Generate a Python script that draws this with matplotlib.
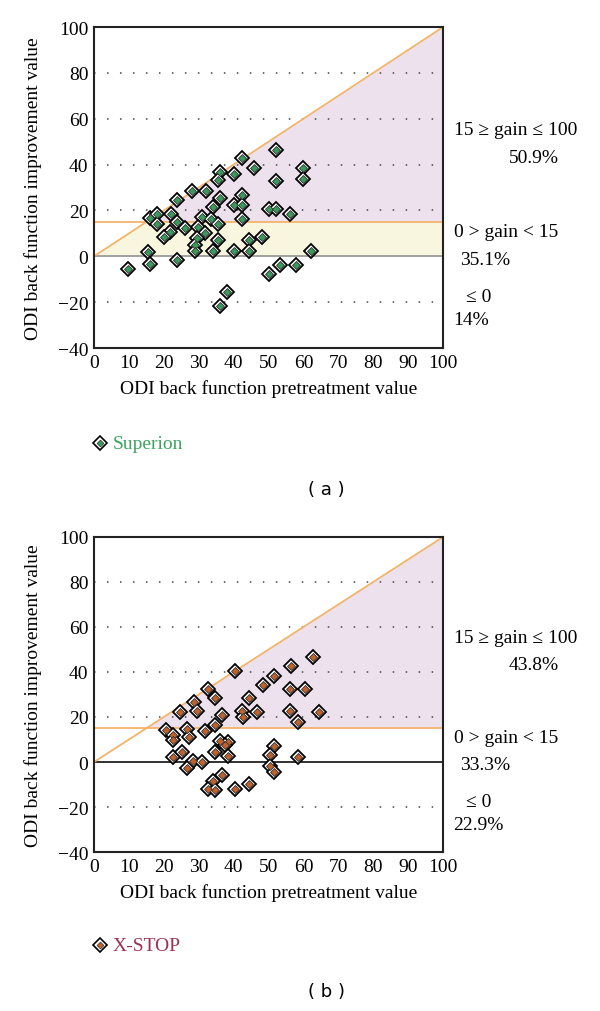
"""ODI back function: improvement vs pretreatment value, Superion and X-STOP."""

import numpy as np
import matplotlib
matplotlib.use("Agg")
import matplotlib.pyplot as plt

SERIF = ["Liberation Serif", "DejaVu Serif"]
plt.rcParams["font.family"] = SERIF

# Superion (panel a)
sup_pre = [52.1, 42.3, 45.9, 60.0, 60.0, 52.1, 36.1, 35.6, 40.1, 28.0,
           32.0, 23.9, 36.1, 42.3, 40.1, 42.3, 34.2, 50.1, 52.1, 56.2,
           42.3, 15.9, 18.0, 18.0, 22.0, 23.9, 26.1, 21.8, 20.1, 30.9,
           29.9, 33.4, 35.6, 31.8, 29.4, 28.9, 28.9, 35.6, 34.0, 40.1,
           44.5, 44.5, 48.0, 62.1, 15.6, 15.9, 23.9, 9.8, 50.1, 53.3,
           57.9, 38.0, 36.1]
sup_gain = [46.3, 42.7, 38.5, 38.5, 33.8, 32.8, 36.8, 33.5, 36.0, 28.7,
            28.7, 24.7, 25.4, 26.6, 22.5, 22.2, 21.4, 20.8, 20.8, 18.6,
            16.2, 16.7, 18.4, 14.2, 18.4, 14.9, 12.3, 10.8, 8.6, 17.0,
            13.0, 16.2, 14.0, 10.1, 7.9, 5.0, 2.3, 7.2, 2.3, 2.3,
            7.2, 2.5, 8.3, 2.3, 2.0, -3.5, -1.6, -5.6, -7.5, -3.8,
            -3.8, -15.5, -21.6]

# X-STOP (panel b)
xs_pre = [62.7, 56.4, 40.4, 51.7, 48.5, 56.2, 60.5, 32.6, 34.7, 44.5,
          28.7, 29.6, 24.6, 36.7, 42.5, 42.8, 46.6, 56.2, 58.4, 64.6,
          34.7, 31.8, 26.6, 20.6, 22.7, 22.7, 27.3, 36.1, 38.5, 37.6,
          51.7, 50.4, 34.7, 38.5, 22.5, 25.1, 28.5, 30.9, 58.4, 26.6,
          50.4, 51.7, 36.7, 34.0, 32.6, 34.7, 40.4, 44.5]
xs_gain = [46.5, 42.5, 40.6, 38.4, 34.4, 32.4, 32.4, 32.5, 28.4, 28.4,
           26.5, 22.5, 22.1, 20.7, 22.5, 19.9, 22.1, 22.5, 17.8, 22.1,
           16.3, 13.6, 14.8, 14.4, 12.1, 9.9, 11.2, 9.2, 8.9, 7.7,
           7.0, 3.3, 4.3, 2.5, 2.2, 4.6, 0.3, 0.0, 2.1, -2.7,
           -1.6, -4.4, -5.9, -8.6, -12.0, -12.3, -12.0, -9.8]

xticks = list(range(0, 101, 10))
yticks = [-40, -20, 0, 20, 40, 60, 80, 100]
grid_levels = [-20, 20, 40, 60, 80]
threshold = 15

panels = [
    dict(pre=sup_pre, gain=sup_gain, name="Superion", color="#3a9a5c",
         text_color="#3fa35f", tag="( a )", yellow=True, zero_color="#999999",
         labels=[("15 \u2265 gain \u2264 100", "50.9%"),
                 ("0 > gain < 15", "35.1%"),
                 ("\u2264 0", "14%")]),
    dict(pre=xs_pre, gain=xs_gain, name="X-STOP", color="#c0622c",
         text_color="#9a3052", tag="( b )", yellow=False, zero_color="#222222",
         labels=[("15 \u2265 gain \u2264 100", "43.8%"),
                 ("0 > gain < 15", "33.3%"),
                 ("\u2264 0", "22.9%")]),
]

FS = 14
fig = plt.figure(figsize=(6, 10.12), dpi=100)
rects = [[0.1567, 0.6551, 0.5817, 0.3172], [0.1567, 0.1571, 0.5817, 0.3113]]

for rect, p in zip(rects, panels):
    ax = fig.add_axes(rect)
    ax.set_xlim(0, 100)
    ax.set_ylim(-40, 100)

    # shaded gain regions
    xx = np.linspace(0, 100, 201)
    ax.fill_between(xx, threshold, xx, where=xx >= threshold,
                    color="#eee1ee", lw=0, zorder=0)
    if p["yellow"]:
        ax.fill_between(xx, 0, np.minimum(xx, threshold),
                        color="#f8f6df", lw=0, zorder=0)

    for g in grid_levels:
        ax.axhline(g, color="#444444", lw=1.1, ls=(0, (1, 7.5)), zorder=1)
    ax.axhline(0, color=p["zero_color"], lw=1.3, zorder=1)
    ax.axhline(threshold, color="#f2b46a", lw=1.3, zorder=2)
    ax.plot([0, 100], [0, 100], color="#f2b46a", lw=1.3, zorder=2)

    ax.plot(p["pre"], p["gain"], ls="none", marker="D", ms=7.4,
            mfc="white", mec="black", mew=1.3, zorder=3)
    ax.plot(p["pre"], p["gain"], ls="none", marker="D", ms=3.9,
            mfc=p["color"], mec="#333333", mew=0.6, zorder=4)

    ax.set_xticks(xticks)
    ax.set_yticks(yticks)
    ax.set_yticklabels([str(v).replace("-", "\u2212") for v in yticks])
    ax.tick_params(length=0, labelsize=FS, pad=4)
    for s in ax.spines.values():
        s.set_color("#222222")
        s.set_linewidth(1.5)

    ax.set_xlabel("ODI back function pretreatment value", fontsize=FS,
                  labelpad=6)
    ax.set_ylabel("ODI back function improvement value", fontsize=FS)
    ax.yaxis.set_label_coords(-0.15, 0.5)

    # right-hand region annotations
    (t1, v1), (t2, v2), (t3, v3) = p["labels"]
    ax.text(1.03, 0.682, t1, transform=ax.transAxes, fontsize=FS,
            va="center", ha="left")
    ax.text(1.26, 0.594, v1, transform=ax.transAxes, fontsize=FS,
            va="center", ha="center")
    ax.text(1.03, 0.364, t2, transform=ax.transAxes, fontsize=FS,
            va="center", ha="left")
    ax.text(1.12, 0.277, v2, transform=ax.transAxes, fontsize=FS,
            va="center", ha="center")
    ax.text(1.065, 0.16, t3, transform=ax.transAxes, fontsize=FS,
            va="center", ha="left")
    ax.text(1.03, 0.088, v3, transform=ax.transAxes, fontsize=FS,
            va="center", ha="left")

    # legend entry below the axes
    ax.plot([0.016], [-0.296], transform=ax.transAxes, clip_on=False,
            ls="none", marker="D", ms=7.0, mfc="white", mec="black", mew=1.2)
    ax.plot([0.016], [-0.296], transform=ax.transAxes, clip_on=False,
            ls="none", marker="D", ms=3.5, mfc=p["color"], mec="#333333",
            mew=0.5)
    ax.text(0.054, -0.296, p["name"], transform=ax.transAxes, fontsize=FS,
            color=p["text_color"], va="center", ha="left")

    ax.text(0.665, -0.44, p["tag"], transform=ax.transAxes, fontsize=13,
            family="DejaVu Sans", va="center", ha="center")

fig.savefig("out.png", dpi=100)
